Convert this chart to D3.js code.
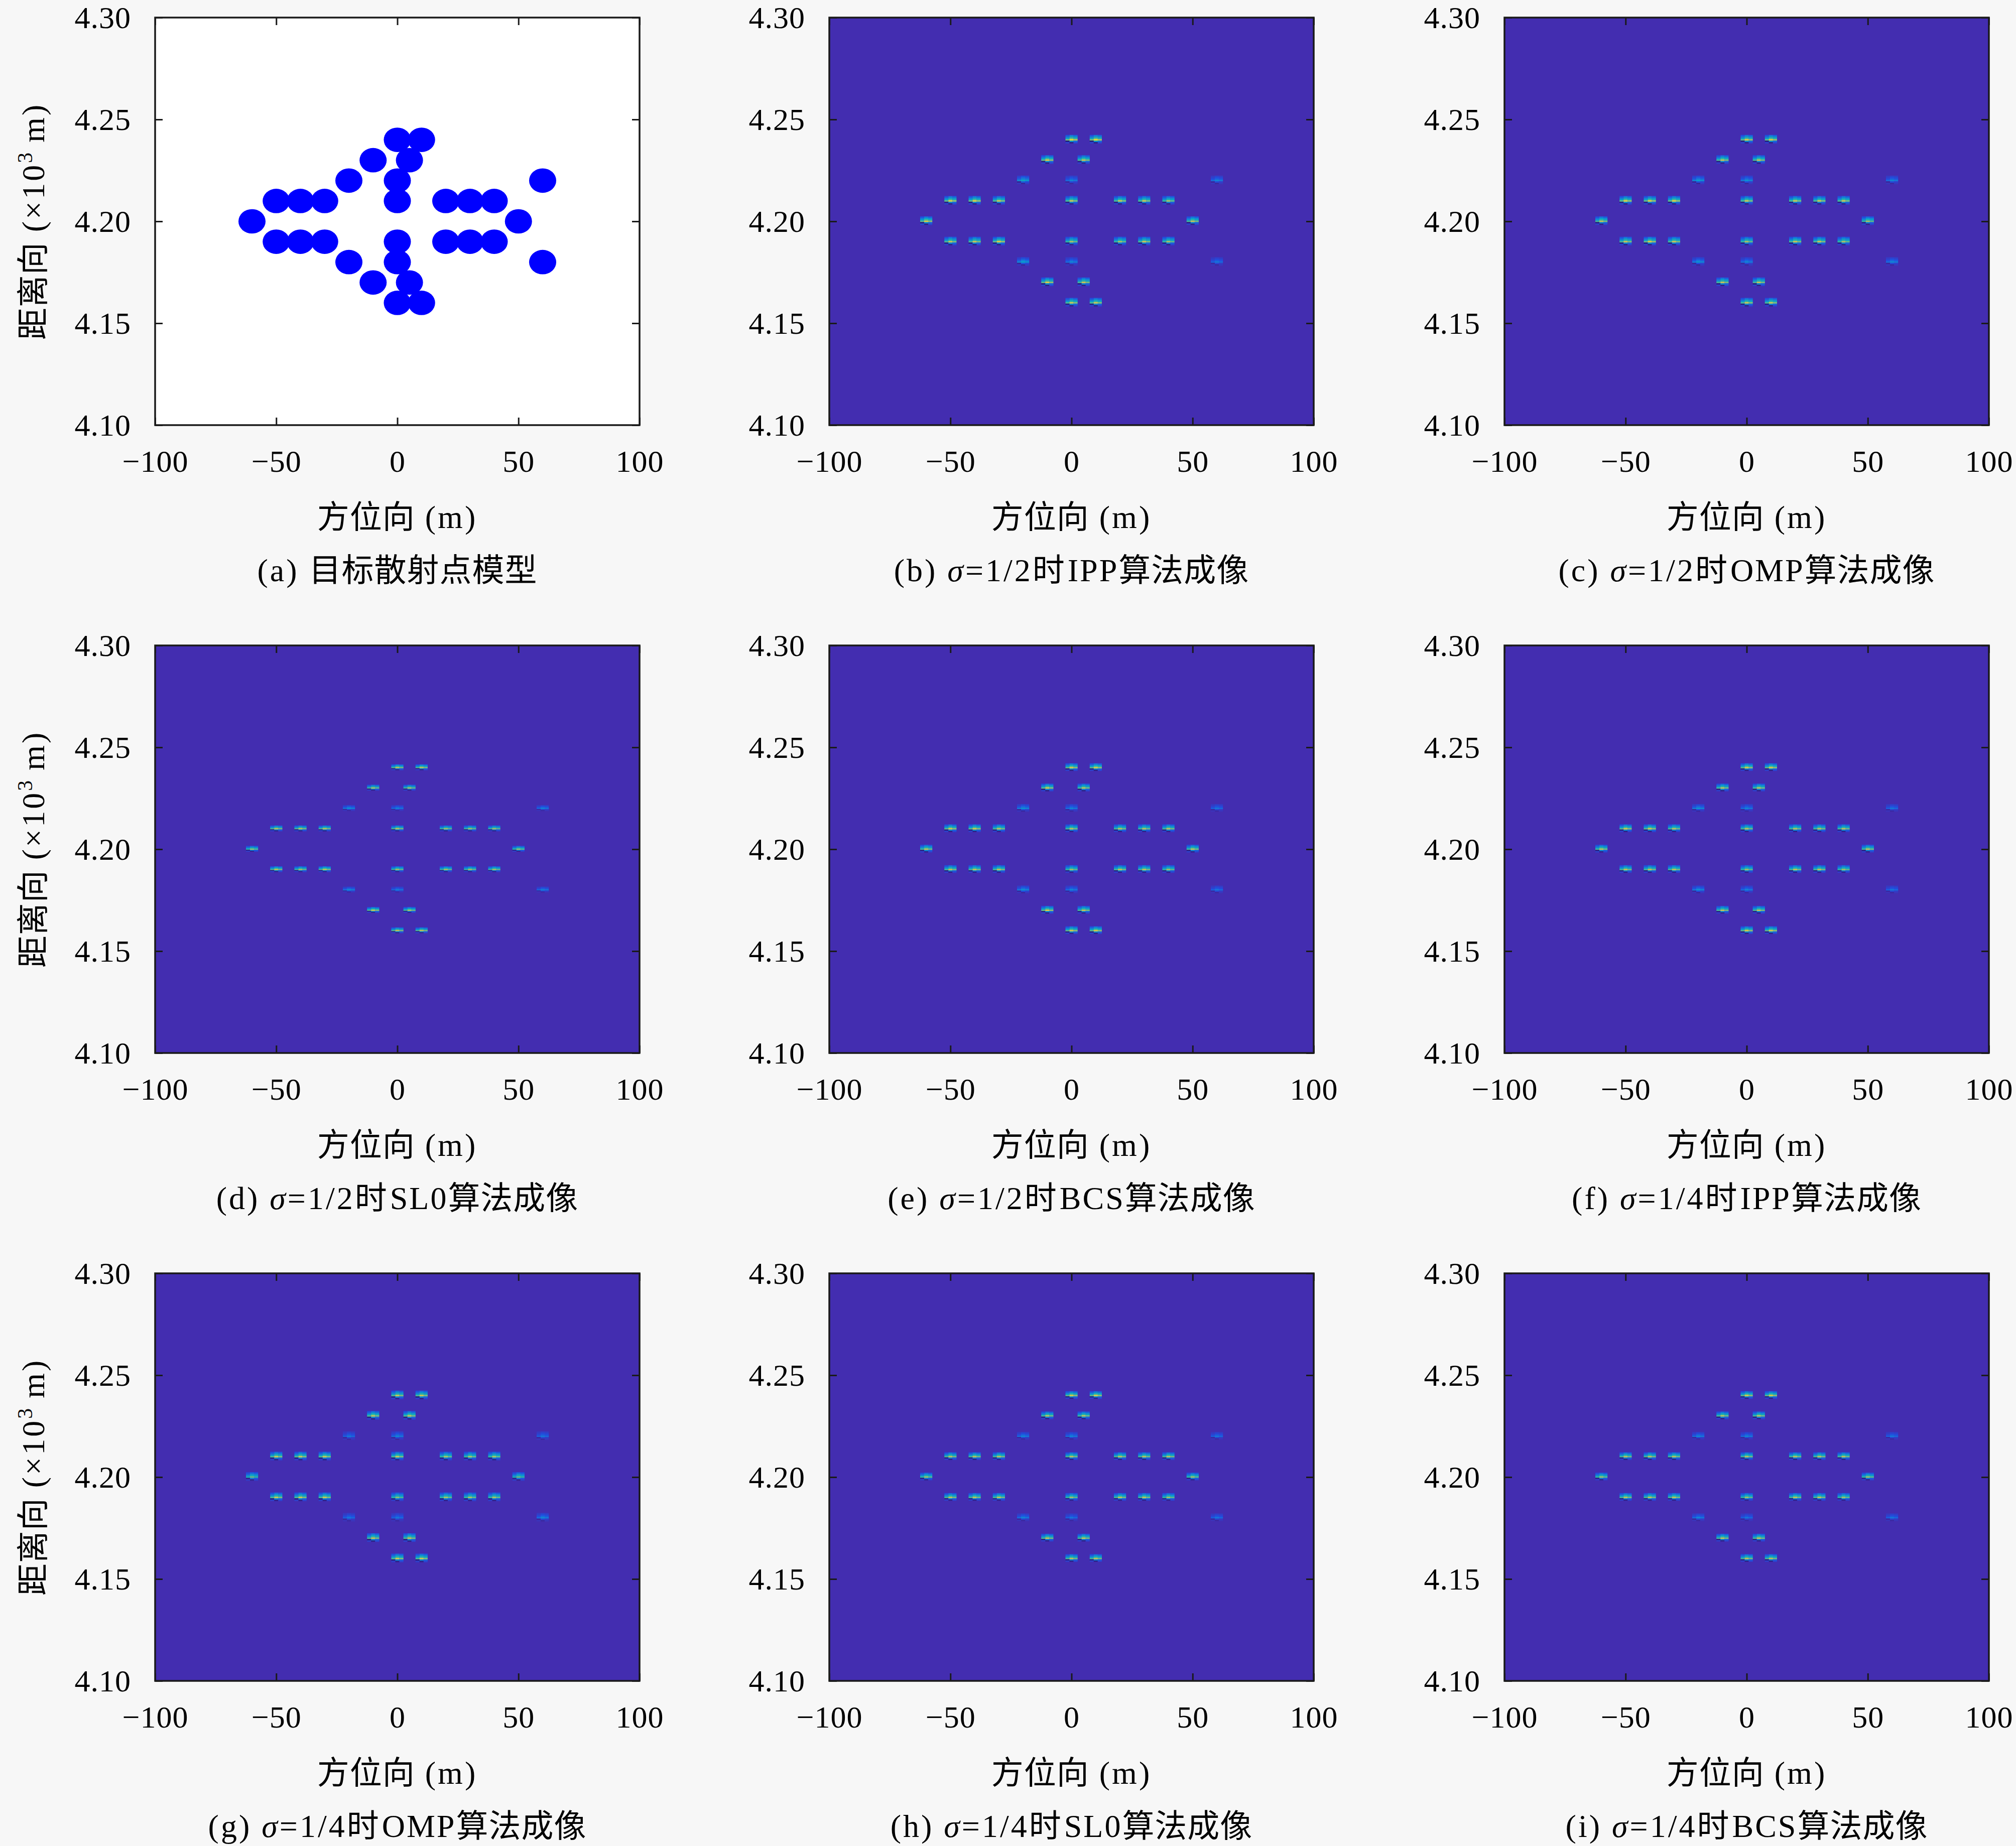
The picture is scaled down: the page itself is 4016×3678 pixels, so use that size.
<!DOCTYPE html>
<html>
<head>
<meta charset="utf-8">
<script src="https://cdn.jsdelivr.net/npm/d3@7"></script>
<style>
  body { margin: 0; background: #f7f7f7; }
</style>
</head>
<body>
<script>

// === Data === //

var xTicks = [-100, -50, 0, 50, 100];
var yTicks = [4.10, 4.15, 4.20, 4.25, 4.30];

// scatter model: azimuth (m), range (x10^3 m)
var ptX = [0, 10, -10, 5, -20, 0, 60,
	-50, -40, -30, 0, 20, 30, 40,
	-60, 50,
	-50, -40, -30, 0, 20, 30, 40,
	-20, 0, 60, -10, 5, 0, 10];
var ptY = [4.24, 4.24, 4.23, 4.23, 4.22, 4.22, 4.22,
	4.21, 4.21, 4.21, 4.21, 4.21, 4.21, 4.21,
	4.20, 4.20,
	4.19, 4.19, 4.19, 4.19, 4.19, 4.19, 4.19,
	4.18, 4.18, 4.18, 4.17, 4.17, 4.16, 4.16];

// image peak amplitude of each point, per panel (b..i)
var ampB = [0.95, 0.95, 0.9, 0.85, 0.5, 0.35, 0.35, 0.9, 0.9, 0.85, 0.85, 0.85, 0.85, 0.8, 0.9, 0.85, 0.85, 0.85, 0.9, 0.8, 0.8, 0.85, 0.8, 0.45, 0.35, 0.3, 0.9, 0.85, 0.85, 0.85];
var ampC = [0.9, 0.9, 0.85, 0.85, 0.45, 0.4, 0.35, 0.9, 0.9, 0.9, 0.85, 0.85, 0.85, 0.85, 0.85, 0.8, 0.85, 0.9, 0.85, 0.8, 0.85, 0.85, 0.8, 0.4, 0.35, 0.35, 0.85, 0.85, 0.85, 0.85];
var ampD = [0.9, 0.9, 0.85, 0.85, 0.4, 0.35, 0.35, 0.9, 0.9, 0.9, 0.9, 0.85, 0.85, 0.85, 0.8, 0.8, 0.9, 0.85, 0.9, 0.85, 0.85, 0.85, 0.85, 0.4, 0.35, 0.35, 0.9, 0.85, 0.9, 0.9];
var ampE = [0.9, 0.9, 0.9, 0.85, 0.4, 0.35, 0.3, 0.9, 0.9, 0.85, 0.85, 0.85, 0.85, 0.85, 0.85, 0.85, 0.85, 0.85, 0.85, 0.8, 0.85, 0.85, 0.8, 0.4, 0.35, 0.3, 0.9, 0.85, 0.9, 0.9];
var ampF = [0.9, 0.9, 0.85, 0.85, 0.4, 0.35, 0.3, 0.9, 0.9, 0.85, 0.85, 0.85, 0.85, 0.85, 0.85, 0.85, 0.85, 0.85, 0.85, 0.8, 0.85, 0.85, 0.8, 0.4, 0.35, 0.3, 0.85, 0.85, 0.9, 0.9];
var ampG = [0.85, 0.85, 0.85, 0.85, 0.3, 0.35, 0.3, 0.85, 0.85, 0.85, 0.85, 0.8, 0.8, 0.8, 0.7, 0.7, 0.85, 0.85, 0.85, 0.75, 0.8, 0.8, 0.8, 0.3, 0.3, 0.35, 0.85, 0.85, 0.85, 0.85];
var ampH = [0.9, 0.9, 0.85, 0.85, 0.35, 0.35, 0.3, 0.85, 0.85, 0.85, 0.85, 0.85, 0.85, 0.85, 0.8, 0.8, 0.85, 0.85, 0.85, 0.8, 0.85, 0.85, 0.8, 0.35, 0.3, 0.3, 0.85, 0.85, 0.85, 0.85];
var ampI = [0.9, 0.9, 0.85, 0.85, 0.35, 0.35, 0.3, 0.85, 0.85, 0.85, 0.85, 0.85, 0.85, 0.85, 0.8, 0.8, 0.85, 0.85, 0.85, 0.8, 0.85, 0.85, 0.8, 0.35, 0.3, 0.3, 0.85, 0.85, 0.85, 0.85];

var capLetter = ['a', 'b', 'c', 'd', 'e', 'f', 'g', 'h', 'i'];
var capSigma = [null, '1/2', '1/2', '1/2', '1/2', '1/4', '1/4', '1/4', '1/4'];
var capAlg = [null, 'IPP', 'OMP', 'SL0', 'BCS', 'IPP', 'OMP', 'SL0', 'BCS'];
var panelAmp = [null, ampB, ampC, ampD, ampE, ampF, ampG, ampH, ampI];


// === Layout === //

var colX = [309, 1652, 2997];
var rowY = [35, 1286, 2537];
var W = 965, H = 812;
var font = '"Liberation Serif", "DejaVu Serif", "Noto Sans CJK SC", serif';
var bgImage = '#432db0';

// point-spread blob: 3 columns x 6 rows of weights (pixel cells)
var kernCols = [-12, -4, 4];
var kernW = [
	[0.20, 0.32, 0.25],
	[0.32, 0.52, 0.42],
	[0.50, 0.72, 0.60],
	[0.75, 1.00, 0.85],
	[-0.25, 0.45, 0.30],
	[0.12, -0.2, 0.15]
];
var rowH = [null, 2.8, 2.8, 1.9, 2.5, 2.5, 2.8, 2.5, 2.5];

var colour = d3.scaleLinear()
	.domain([-0.3, 0, 0.18, 0.32, 0.46, 0.6, 0.74, 0.88, 1])
	.range(['#1c1a6e', bgImage, '#1f4fe0', '#1481d6', '#06a4ca', '#2eb7a4', '#87bf77', '#e5c84a', '#f9fb0e'])
	.clamp(true);

var svg = d3.select('body').append('svg')
	.attr('width', 4016).attr('height', 3678);

svg.append('rect').attr('width', 4016).attr('height', 3678).attr('fill', '#f7f7f7');

var x = d3.scaleLinear().domain([-100, 100]).range([0, W]);
var y = d3.scaleLinear().domain([4.10, 4.30]).range([H, 0]);

var points = ptX.map(function(d, i) { return { x: d, y: ptY[i] }; });


// mixed latin / CJK text; latin glyphs get a little extra spacing (wider TeX look)
function addParts(textSel, parts) {
	parts.forEach(function(p) {
		var t = textSel.append('tspan').text(p[0]);
		if (p[1] === 'L') t.attr('letter-spacing', 4);
		if (p[1] === 'I') t.attr('letter-spacing', 4).attr('font-style', 'italic');
		if (p[1] === 'U') t.attr('letter-spacing', 3).attr('dx', 5);
		if (p[1] === 'C') t.attr('letter-spacing', 1);
	});
}


// === Panels === //

capLetter.forEach(function(letter, i) {

	var col = i % 3, row = Math.floor(i / 3);
	var g = svg.append('g').attr('transform', 'translate(' + colX[col] + ',' + rowY[row] + ')');

	g.append('clipPath').attr('id', 'clip' + i)
		.append('rect').attr('width', W).attr('height', H);

	var plot = g.append('g').attr('clip-path', 'url(#clip' + i + ')');

	if (i === 0) {

		plot.append('rect').attr('width', W).attr('height', H).attr('fill', '#fff');

		plot.selectAll('ellipse')
			.data(points)
			.enter().append('ellipse')
			.attr('cx', function(d) { return x(d.x); })
			.attr('cy', function(d) { return y(d.y); })
			.attr('rx', x(5.6) - x(0))
			.attr('ry', y(4.20) - y(4.206))
			.attr('fill', '#0000ff');

	} else {

		plot.append('rect').attr('width', W).attr('height', H).attr('fill', bgImage);

		var amp = panelAmp[i];
		var rh = rowH[i];
		var cells = [];
		points.forEach(function(p, k) {
			kernW.forEach(function(wr, r) {
				wr.forEach(function(w, c) {
					cells.push({ px: x(p.x) + kernCols[c], py: y(p.y) + (r - 3.5) * rh, v: amp[k] * w });
				});
			});
		});

		plot.selectAll('rect.cell')
			.data(cells)
			.enter().append('rect')
			.attr('class', 'cell')
			.attr('x', function(d) { return d.px; })
			.attr('y', function(d) { return d.py; })
			.attr('width', 8.2)
			.attr('height', rh + 0.2)
			.attr('fill', function(d) { return colour(d.v); });

	}

	// axes
	g.append('g').attr('transform', 'translate(0,' + H + ')')
		.call(d3.axisBottom(x).tickValues(xTicks).tickSize(-15).tickSizeOuter(0).tickPadding(49));
	var ay = g.append('g')
		.call(d3.axisLeft(y).tickValues(yTicks).tickSize(-15).tickSizeOuter(0).tickPadding(48).tickFormat(d3.format('.2f')));
	g.append('g')
		.call(d3.axisTop(x).tickValues(xTicks).tickSize(-15).tickSizeOuter(0).tickFormat(''));
	g.append('g').attr('transform', 'translate(' + W + ',0)')
		.call(d3.axisRight(y).tickValues(yTicks).tickSize(-15).tickSizeOuter(0).tickFormat(''));

	g.selectAll('.domain').remove();
	g.selectAll('.tick line').attr('stroke', '#1a1a1a').attr('stroke-width', 3);
	g.selectAll('.tick text').attr('font-family', font).attr('font-size', 62).attr('fill', '#000')
		.attr('letter-spacing', 1);
	ay.selectAll('.tick text').attr('dy', '0.33em');

	g.append('rect').attr('width', W).attr('height', H)
		.attr('fill', 'none').attr('stroke', '#1a1a1a').attr('stroke-width', 3.5);

	// axis titles
	var xt = g.append('text')
		.attr('x', W / 2).attr('y', H + 205)
		.attr('text-anchor', 'middle')
		.attr('font-family', font).attr('font-size', 64);
	addParts(xt, [['方位向', 'C'], [' (m)', 'L']]);

	if (col === 0) {
		var yt = g.append('text')
			.attr('transform', 'translate(' + (66 - colX[0] + 22) + ',' + (H / 2) + ') rotate(-90)')
			.attr('text-anchor', 'middle')
			.attr('font-family', font).attr('font-size', 64);
		addParts(yt, [['距离向', 'C'], [' (×10', 'L']]);
		yt.append('tspan').attr('font-size', 42).attr('dy', -24).text('3');
		yt.append('tspan').attr('dy', 24).attr('letter-spacing', 4).text(' m)');
	}

	// caption
	var cap = g.append('text')
		.attr('x', W / 2).attr('y', H + 311)
		.attr('text-anchor', 'middle')
		.attr('font-family', font).attr('font-size', 64);
	if (capSigma[i]) {
		addParts(cap, [['(' + letter + ') ', 'L'], ['σ', 'I'], ['=' + capSigma[i], 'L'],
			['时', 'C'], [capAlg[i], 'U'], ['算法成像', 'C']]);
	} else {
		addParts(cap, [['(' + letter + ') ', 'L'], ['目标散射点模型', 'C']]);
	}

});

</script>
</body>
</html>
